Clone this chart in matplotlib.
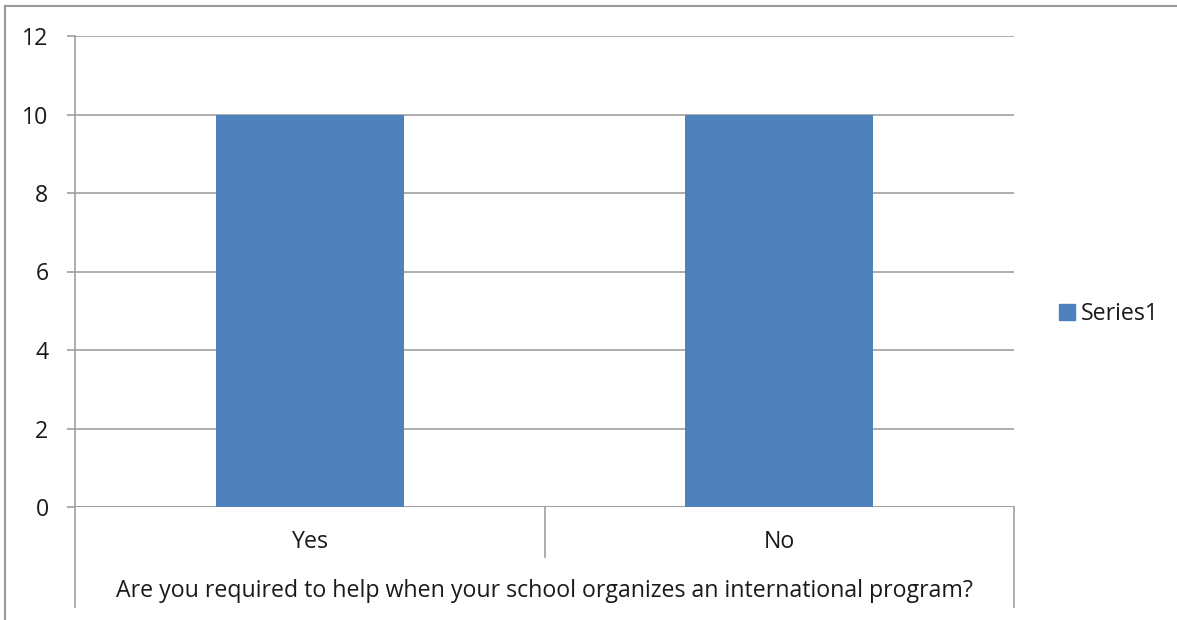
import matplotlib
matplotlib.use("Agg")
import matplotlib.pyplot as plt
from matplotlib.lines import Line2D
from matplotlib.patches import Patch

categories = ["Yes", "No"]
series1 = [10, 10]
yticks = [0, 2, 4, 6, 8, 10, 12]
axis_title = "Are you required to help when your school organizes an international program?"

plt.rcParams['font.family'] = ['Open Sans', 'DejaVu Sans']
W, H = 1177, 620
FS = 16.7
fig = plt.figure(figsize=(W/100, H/100), dpi=100)
ax = fig.add_axes([75/W, 1-507/H, (1014-75)/W, (507-36)/H])

grid_c = '#a0a0a0'
txt_c = '#1a1a1a'
x = list(range(len(categories)))
ax.bar(x, series1, width=0.4, color='#4F81BD', zorder=3)
ax.set_xlim(-0.5, len(categories)-0.5)
ax.set_ylim(0, 12)
ax.set_yticks(yticks)
ax.set_yticklabels([str(v) for v in yticks], fontsize=FS, color=txt_c)
ax.yaxis.grid(True, color=grid_c, linewidth=1.2, zorder=0)
ax.tick_params(axis='y', length=6, width=1.2, color=grid_c, pad=13)
ax.set_xticks([])
for s in ['top', 'right', 'bottom']:
    ax.spines[s].set_visible(False)
ax.spines['left'].set_color(grid_c)
ax.spines['left'].set_linewidth(1.2)
ax.axhline(0, color=grid_c, linewidth=1.2, zorder=2)

tr = ax.get_xaxis_transform()
hpx = 507 - 36
for xi, c in zip(x, categories):
    ax.text(xi, -35/hpx, c, transform=tr, ha='center', va='center', fontsize=FS, color=txt_c)
ax.text(0.5, -84/hpx, axis_title, transform=tr, ha='center', va='center', fontsize=FS, color=txt_c)
ax.add_line(Line2D([0.5, 0.5], [0, -50/hpx], transform=tr, color=grid_c, lw=1.2, clip_on=False))
ax.add_line(Line2D([-0.5, -0.5], [0, -100/hpx], transform=tr, color=grid_c, lw=1.2, clip_on=False))
ax.add_line(Line2D([1.5, 1.5], [0, -100/hpx], transform=tr, color=grid_c, lw=1.2, clip_on=False))

fig.add_artist(Line2D([5/W, 5/W], [0, 1-6/H], transform=fig.transFigure, color='#999999', lw=1.5))
fig.add_artist(Line2D([5/W, 1], [1-6/H, 1-6/H], transform=fig.transFigure, color='#999999', lw=1.5))

leg = fig.legend(handles=[Patch(color='#4F81BD', label='Series1')], loc='center left',
                 bbox_to_anchor=(1047/W, 1-314/H), frameon=False, fontsize=FS,
                 handlelength=0.7, handleheight=0.7, handletextpad=0.25, borderpad=0)
for t in leg.get_texts():
    t.set_color(txt_c)

fig.savefig('out.png', dpi=100)
